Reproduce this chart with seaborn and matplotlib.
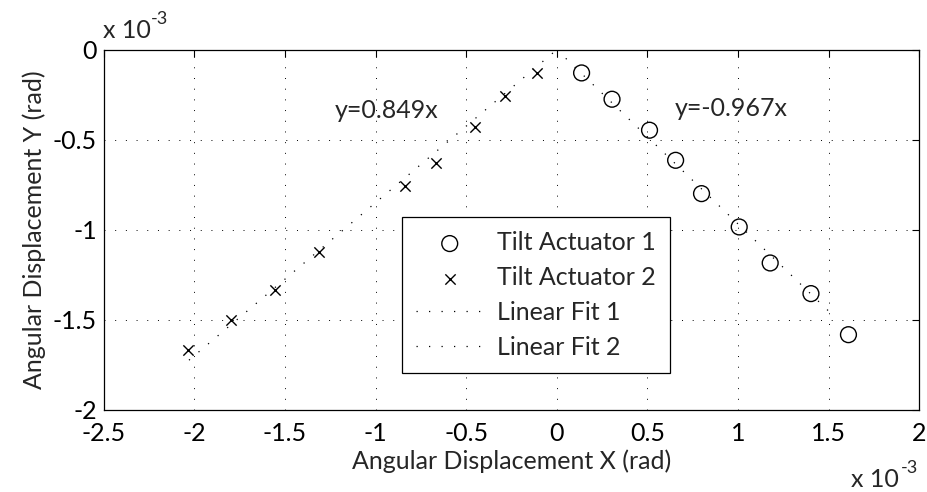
import matplotlib
matplotlib.use("Agg")
import matplotlib.pyplot as plt
import seaborn as sns
import pandas as pd

# Measured angular displacements, in units of 1e-3 rad
act1_x = [0.137, 0.305, 0.512, 0.656, 0.799, 1.007, 1.178, 1.403, 1.610]
act1_y = [-0.129, -0.275, -0.447, -0.614, -0.799, -0.984, -1.184, -1.354, -1.582]
act2_x = [-2.038, -1.796, -1.555, -1.315, -0.836, -0.667, -0.451, -0.283, -0.109]
act2_y = [-1.669, -1.499, -1.332, -1.123, -0.758, -0.627, -0.429, -0.257, -0.129]

# Linear fits through the origin
fit1_slope = -0.967
fit2_slope = 0.849
fit1_range = [0.0, 1.52]
fit2_range = [-2.03, 0.0]

x_ticks = [-2.5, -2, -1.5, -1, -0.5, 0, 0.5, 1, 1.5, 2]
y_ticks = [-2, -1.5, -1, -0.5, 0]

sns.set_style("white")
plt.rcParams["font.family"] = ["Lato", "DejaVu Sans"]

FS = 18
W, H = 927, 492

fig = plt.figure(figsize=(9.27, 4.92), dpi=100)
ax = fig.add_axes([0.112, 0.1667, 0.8795, 0.7323])

df1 = pd.DataFrame({"x": act1_x, "y": act1_y})
df2 = pd.DataFrame({"x": act2_x, "y": act2_y})
fit1 = pd.DataFrame({"x": fit1_range, "y": [fit1_slope * v for v in fit1_range]})
fit2 = pd.DataFrame({"x": fit2_range, "y": [fit2_slope * v for v in fit2_range]})

dots = (0, (1, 9))
sns.scatterplot(data=df1, x="x", y="y", ax=ax, marker="o", s=130,
                facecolor="none", edgecolor="black", linewidth=1.0,
                label="Tilt Actuator 1", zorder=3)
sns.scatterplot(data=df2, x="x", y="y", ax=ax, marker="x", s=55,
                color="black", linewidth=1.0, label="Tilt Actuator 2", zorder=3)
sns.lineplot(data=fit1, x="x", y="y", ax=ax, color="black", linewidth=0.9,
             linestyle=dots, label="Linear Fit 1", zorder=2)
sns.lineplot(data=fit2, x="x", y="y", ax=ax, color="black", linewidth=0.9,
             linestyle=dots, label="Linear Fit 2", zorder=2)

ax.set_xlim(-2.5, 2)
ax.set_ylim(-2, 0)
ax.set_xticks(x_ticks)
ax.set_yticks(y_ticks)
ax.set_xticklabels([f"{v:g}" for v in x_ticks])
ax.set_yticklabels([f"{v:g}" for v in y_ticks])
ax.grid(True, color="black", linestyle=(0, (1, 10)), linewidth=0.7)
ax.tick_params(direction="in", length=5, width=0.8, top=True, right=True,
               labelsize=FS, colors="black")
ax.tick_params(axis="x", pad=9)
ax.tick_params(axis="y", pad=5)
for s in ax.spines.values():
    s.set_color("black")
    s.set_linewidth(0.9)

ax.set_xlabel("Angular Displacement X (rad)", fontsize=FS, labelpad=3)
ax.set_ylabel("Angular Displacement Y (rad)", fontsize=FS, labelpad=5)

ax.text(-0.94, -0.336, f"y={fit2_slope}x", fontsize=FS, ha="center", va="center")
ax.text(0.963, -0.325, f"y={fit1_slope}x", fontsize=FS, ha="center", va="center")

# axis multipliers (x 10^-3), written as base text plus a raised exponent
fig.text(103 / W, 1 - 38 / H, "x 10", fontsize=FS, ha="left", va="baseline")
fig.text(151 / W, 1 - 24 / H, "-3", fontsize=13, ha="left", va="baseline")
fig.text(899 / W, 1 - 487 / H, "x 10", fontsize=FS, ha="right", va="baseline")
fig.text(901 / W, 1 - 473 / H, "-3", fontsize=13, ha="left", va="baseline")

leg = ax.legend(loc="lower left", bbox_to_anchor=(0.366, 0.103),
                borderaxespad=0, fontsize=FS, frameon=True, fancybox=False,
                edgecolor="black", framealpha=1, handlelength=2.7,
                handletextpad=0.55, labelspacing=0.48, borderpad=0.55)
leg.get_frame().set_linewidth(0.9)

fig.savefig("out.png", dpi=100)
